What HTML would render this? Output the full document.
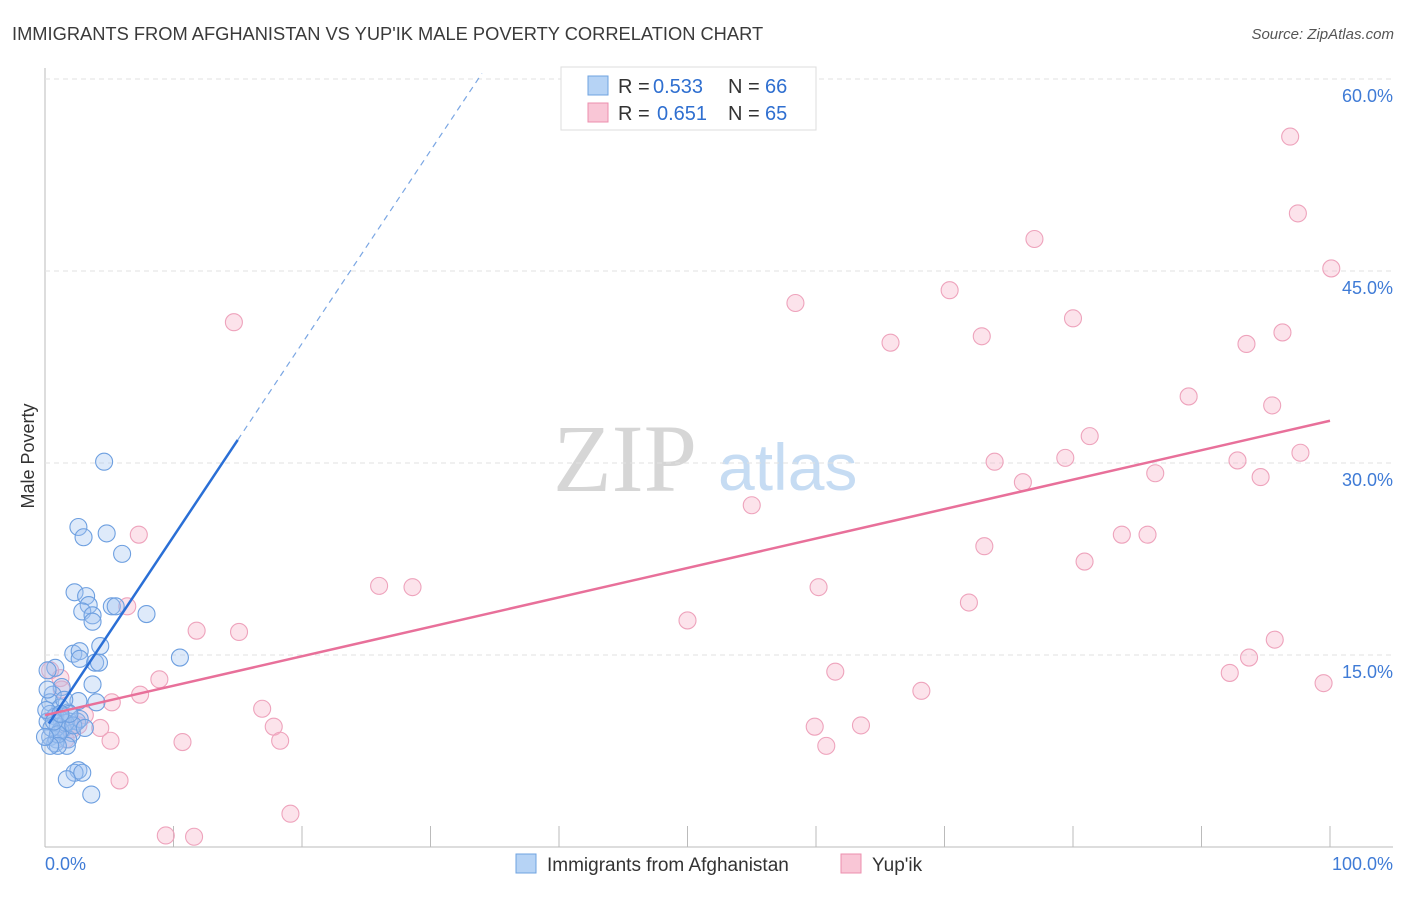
<!DOCTYPE html>
<html><head><meta charset="utf-8"><style>
body{margin:0;background:#fff;font-family:"Liberation Sans",sans-serif}
</style></head><body>
<svg id="c" width="1406" height="892" font-family="Liberation Sans, sans-serif">
<text x="12" y="40" font-size="18.3" fill="#3a3a3a">IMMIGRANTS FROM AFGHANISTAN VS YUP'IK MALE POVERTY CORRELATION CHART</text>
<text x="1394" y="39" font-size="15" fill="#555" font-style="italic" text-anchor="end">Source: ZipAtlas.com</text>
<text x="34" y="456" font-size="18" fill="#333" text-anchor="middle" transform="rotate(-90 34 456)">Male Poverty</text>
<text x="553" y="491" font-size="96" fill="#d6d6d6" style="font-family:'Liberation Serif',serif">ZIP</text>
<text x="718" y="490" font-size="66" fill="#c6dcf3">atlas</text>
<g id="grid"></g><g id="pts"></g><g id="lines"></g>
<g>
<rect x="561" y="67" width="255" height="63" fill="#fff" stroke="#ddd"/>
<rect x="588" y="76" width="20" height="19" fill="#b6d3f5" stroke="#6fa3e0"/>
<rect x="588" y="103" width="20" height="19" fill="#f9c6d6" stroke="#ec8fae"/>
<text x="618" y="93" font-size="20" fill="#333">R =</text>
<text x="653" y="93" font-size="20" fill="#2f6fd0">0.533</text>
<text x="728" y="93" font-size="20" fill="#333">N =</text>
<text x="765" y="93" font-size="20" fill="#2f6fd0">66</text>
<text x="618" y="120" font-size="20" fill="#333">R =</text>
<text x="657" y="120" font-size="20" fill="#2f6fd0">0.651</text>
<text x="728" y="120" font-size="20" fill="#333">N =</text>
<text x="765" y="120" font-size="20" fill="#2f6fd0">65</text>
</g>
<g>
<rect x="516" y="854" width="20" height="19" fill="#b6d3f5" stroke="#6fa3e0"/>
<text x="547" y="871" font-size="19" fill="#333">Immigrants from Afghanistan</text>
<rect x="841" y="854" width="20" height="19" fill="#f9c6d6" stroke="#ec8fae"/>
<text x="872" y="871" font-size="19" fill="#333">Yup'ik</text>
</g>
<text x="45" y="870" font-size="18" fill="#3f7bd6">0.0%</text>
<text x="1393" y="870" font-size="18" fill="#3f7bd6" text-anchor="end">100.0%</text>
</svg>
<script>
const yTicks=[15,30,45,60];
const yTickLabels=["15.0%","30.0%","45.0%","60.0%"];
const blueX=[4.6,2.6,3,4.8,6,2.3,3.2,3.4,2.9,3.7,3.7,5.2,5.5,7.9,4.3,2.2,2.7,2.7,3.9,4.2,10.5,0.8,0.2,3.7,1.3,0.6,2.6,0.4,4,1.2,1.8,0.4,0.8,1.3,1.9,2.5,0.2,1,1.4,2.1,0.4,0.9,1.8,0.8,1.7,2.7,2.6,2.3,2.9,1.7,3.6,1.2,1.6,0.5,1,2.2,0.1,0.2,3.1,1.5,1.9,1,0.4,0,0.7,1.2];
const blueY=[30.1,25,24.2,24.5,22.9,19.9,19.6,18.9,18.4,18.1,17.6,18.8,18.8,18.2,15.7,15.1,15.3,14.7,14.4,14.4,14.8,14,13.8,12.7,12.5,11.9,11.4,11.3,11.3,10.9,10.5,10.4,10.2,9.9,9.8,9.8,9.8,9.4,9.2,8.9,8.6,8.4,8.4,8.1,7.9,10,6,5.8,5.8,5.3,4.1,9.1,9.7,9.3,8.8,9.5,10.7,12.3,9.3,11.5,10.4,7.9,7.9,8.6,9.8,10.4];
const pinkX=[96.9,97.5,100.1,77,58.4,70.4,14.7,65.8,72.9,80,93.5,96.3,89,95.5,81.3,73.9,79.4,92.8,97.7,86.4,94.6,76.1,55,7.3,73.1,83.8,85.8,80.9,26,28.6,60.2,71.9,6.4,50,11.8,15.1,95.7,93.7,92.2,61.5,8.9,68.2,99.5,5.2,16.9,17.8,59.9,63.5,60.8,18.3,10.7,5.1,4.3,3.1,1.2,0.4,1.3,2.1,1.6,5.8,19.1,9.4,11.6,7.4,2.6];
const pinkY=[55.5,49.5,45.2,47.5,42.5,43.5,41,39.4,39.9,41.3,39.3,40.2,35.2,34.5,32.1,30.1,30.4,30.2,30.8,29.2,28.9,28.5,26.7,24.4,23.5,24.4,24.4,22.3,20.4,20.3,20.3,19.1,18.8,17.7,16.9,16.8,16.2,14.8,13.6,13.7,13.1,12.2,12.8,11.3,10.8,9.4,9.4,9.5,7.9,8.3,8.2,8.3,9.3,10.3,13.2,13.8,12.3,9.2,8.4,5.2,2.6,0.9,0.8,11.9,9.5];
const trendBlue=[0.8,10.4,15,31.8];
const trendPink=[0,10.3,100,33.3];
const X=v=>45+v*12.85, Y=v=>847-v*12.8;
const ns="http://www.w3.org/2000/svg";
function mk(p,t,a){const e=document.createElementNS(ns,t);for(const k in a)e.setAttribute(k,a[k]);p.appendChild(e);return e;}
const g=document.getElementById('grid');
let ax=mk(g,'line',{x1:45,y1:68,x2:45,y2:847,stroke:'#bbb'});


let bx=mk(g,'line',{x1:45,y1:847,x2:1393,y2:847,stroke:'#bbb'});


for(let k=0;k<=10;k++){const t=mk(g,'line',{x1:45+128.5*k,y1:826,x2:45+128.5*k,y2:847,stroke:'#bbb'});

}
yTicks.forEach((v,i)=>{const l=mk(g,'line',{x1:45,y1:Y(v),x2:1393,y2:Y(v),stroke:'#e2e2e2','stroke-dasharray':'5,4'});


const t=mk(g,'text',{x:1393,y:Y(v)+23,'font-size':18,fill:'#3f7bd6','text-anchor':'end'});t.textContent=yTickLabels[i];

});
const P=document.getElementById('pts');
pinkX.forEach((x,i)=>{const c=mk(P,'circle',{cx:X(x),cy:Y(pinkY[i]),r:8.5,fill:'rgba(246,175,198,0.35)',stroke:'#eea3bc','stroke-width':1.1});

});
blueX.forEach((x,i)=>{const c=mk(P,'circle',{cx:X(x),cy:Y(blueY[i]),r:8.5,fill:'rgba(160,196,240,0.35)',stroke:'#6d9fe0','stroke-width':1.1});

});
const L=document.getElementById('lines');
const slope=(trendBlue[3]-trendBlue[1])/(trendBlue[2]-trendBlue[0]);
const yAt=x=>trendBlue[1]+slope*(x-trendBlue[0]);
let b1=mk(L,'line',{x1:X(0.3),y1:Y(yAt(0.3)),x2:X(trendBlue[2]),y2:Y(trendBlue[3]),stroke:'#2a6fd6','stroke-width':2.5});


let b2=mk(L,'line',{x1:X(trendBlue[2]),y1:Y(trendBlue[3]),x2:X(34),y2:Y(yAt(34)),stroke:'#7aa6e3','stroke-width':1.2,'stroke-dasharray':'6,5'});


let p1=mk(L,'line',{x1:X(trendPink[0]),y1:Y(trendPink[1]),x2:X(trendPink[2]),y2:Y(trendPink[3]),stroke:'#e8709a','stroke-width':2.5});


</script>
</body></html>
